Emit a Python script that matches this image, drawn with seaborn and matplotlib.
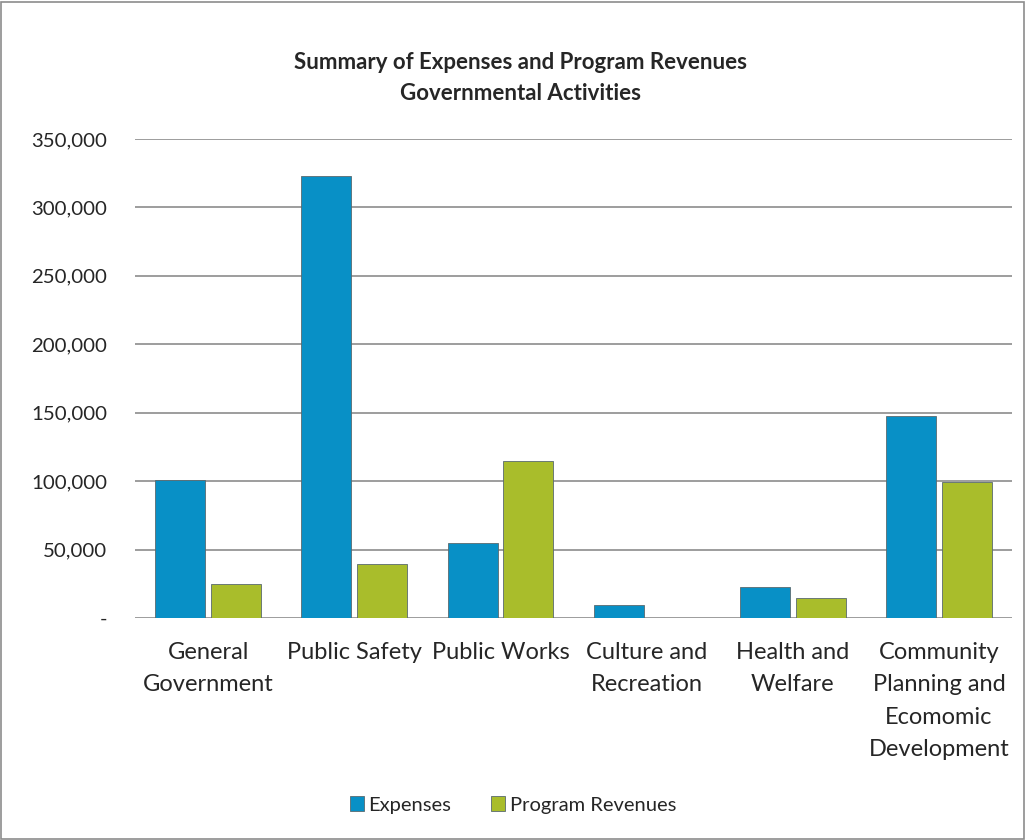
import matplotlib
matplotlib.use("Agg")
import matplotlib.pyplot as plt
import seaborn as sns
import pandas as pd
from matplotlib.patches import Rectangle
from matplotlib.ticker import FuncFormatter

categories = ["General\nGovernment", "Public Safety", "Public Works",
              "Culture and\nRecreation", "Health and\nWelfare",
              "Community\nPlanning and\nEcomomic\nDevelopment"]
expenses = [101000, 323000, 55000, 9200, 22800, 147700]
revenues = [24600, 39400, 114600, 0, 14400, 99100]
series_names = ["Expenses", "Program Revenues"]
colors = ["#0890c6", "#a9bd2b"]

df = pd.DataFrame({
    "cat": categories * 2,
    "val": expenses + revenues,
    "series": [series_names[0]] * len(categories) + [series_names[1]] * len(categories),
})

sns.set_theme(style="white")
plt.rcParams['font.family'] = ['Lato', 'DejaVu Sans']

fig = plt.figure(figsize=(10.26, 8.4), dpi=100)
ax = fig.add_axes([135/1026, 1 - 618/840, (1012-135)/1026, (618-139)/840])

sns.barplot(data=df, x="cat", y="val", hue="series", palette=colors,
            width=0.76, gap=0.1, ax=ax, legend=True,
            edgecolor="#5a6a70", linewidth=0.6, saturation=1)

ax.set_ylim(0, 350000)
ax.set_xlim(-0.5, 5.5)
ax.set_yticks(range(0, 350001, 50000))
ax.yaxis.set_major_formatter(FuncFormatter(lambda v, p: "-" if v == 0 else f"{int(v):,}"))
ax.grid(axis="y", color="#8c8c8c", linewidth=1.2)
ax.set_axisbelow(True)
for s in ax.spines.values():
    s.set_visible(False)
ax.tick_params(axis="y", labelsize=14.7, length=0, pad=20)
ax.tick_params(axis="x", labelsize=17, length=0, pad=17)
for t in ax.get_xticklabels():
    t.set_linespacing(1.68)
ax.set_xlabel("")
ax.set_ylabel("")

fig.text(0.507, 1 - 78/840, "Summary of Expenses and Program Revenues\nGovernmental Activities",
         ha="center", va="center", fontsize=16, fontweight="bold", linespacing=1.6)

handles, labels = ax.get_legend_handles_labels()
ax.legend_.remove()
fig.legend(handles, labels, loc="center", bbox_to_anchor=(0.5, 1 - 805/840),
           ncol=2, frameon=False, fontsize=14.5, handlelength=0.7, handleheight=0.7,
           handletextpad=0.2, columnspacing=2.0)

fig.patches.append(Rectangle((0.001, 0.001), 0.997, 0.997, transform=fig.transFigure,
                             fill=False, edgecolor="#8c8c8c", linewidth=1.2))

fig.savefig("out.png", dpi=100)
